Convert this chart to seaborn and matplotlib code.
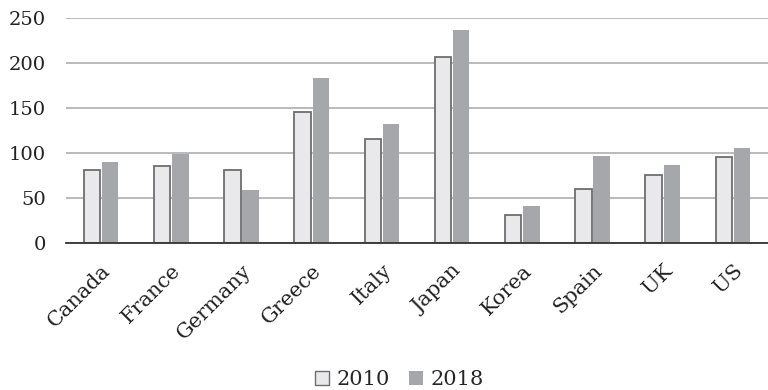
import matplotlib
matplotlib.use("Agg")
import matplotlib.pyplot as plt
import seaborn as sns
import pandas as pd
from matplotlib.patches import Patch

countries = ["Canada", "France", "Germany", "Greece", "Italy", "Japan", "Korea", "Spain", "UK", "US"]
values_2010 = [81, 85, 81, 146, 115, 207, 31, 60, 75, 95]
values_2018 = [90, 99, 59, 183, 132, 237, 41, 97, 87, 106]
years = ["2010", "2018"]

df = pd.DataFrame({
    "country": countries * 2,
    "year": [years[0]] * len(countries) + [years[1]] * len(countries),
    "value": values_2010 + values_2018,
})

sns.set_theme(style="white")
plt.rcParams["font.family"] = ["DejaVu Serif"]

fig = plt.figure(figsize=(7.68, 3.9), dpi=100)
ax = fig.add_axes([0.086, 0.377, 0.914, 0.577])

fill = {"2010": "#e9e9eb", "2018": "#a6a7aa"}
sns.barplot(data=df, x="country", y="value", hue="year", palette=fill,
            width=0.52, gap=0.1, ax=ax, legend=False, saturation=1)

for cont, (ec, lw) in zip(ax.containers, [("#6e6e6e", 1.3), ("#a6a7aa", 0)]):
    for b in cont:
        b.set_edgecolor(ec)
        b.set_linewidth(lw)
        b.set_zorder(3)

ax.set_ylim(0, 250)
ax.set_yticks([0, 50, 100, 150, 200, 250])
ax.yaxis.grid(True, color="#b4b4b4", linewidth=1.3, zorder=0)
ax.set_axisbelow(True)
for s in ["top", "right", "left"]:
    ax.spines[s].set_visible(False)
ax.spines["bottom"].set_color("#333333")
ax.spines["bottom"].set_linewidth(1.3)
ax.spines["bottom"].set_zorder(4)
ax.tick_params(axis="both", length=0, colors="#222222")
ax.tick_params(axis="y", pad=14.5, labelsize=14)
ax.tick_params(axis="x", pad=13, labelsize=15)
ax.set_xlabel("")
ax.set_ylabel("")
plt.setp(ax.get_xticklabels(), rotation=45, ha="right", va="top", rotation_mode="anchor")
ax.set_xlim(-0.5, len(countries) - 0.5)

handles = [Patch(facecolor=fill["2010"], edgecolor="#6e6e6e", linewidth=1.0),
           Patch(facecolor=fill["2018"], edgecolor=fill["2018"], linewidth=0)]
fig.legend(handles, years, loc="center", bbox_to_anchor=(0.52, 0.026), ncol=2,
           frameon=False, fontsize=15, handlelength=0.7, handleheight=0.7,
           handletextpad=0.35, columnspacing=0.9)

fig.savefig("out.png", dpi=100)
